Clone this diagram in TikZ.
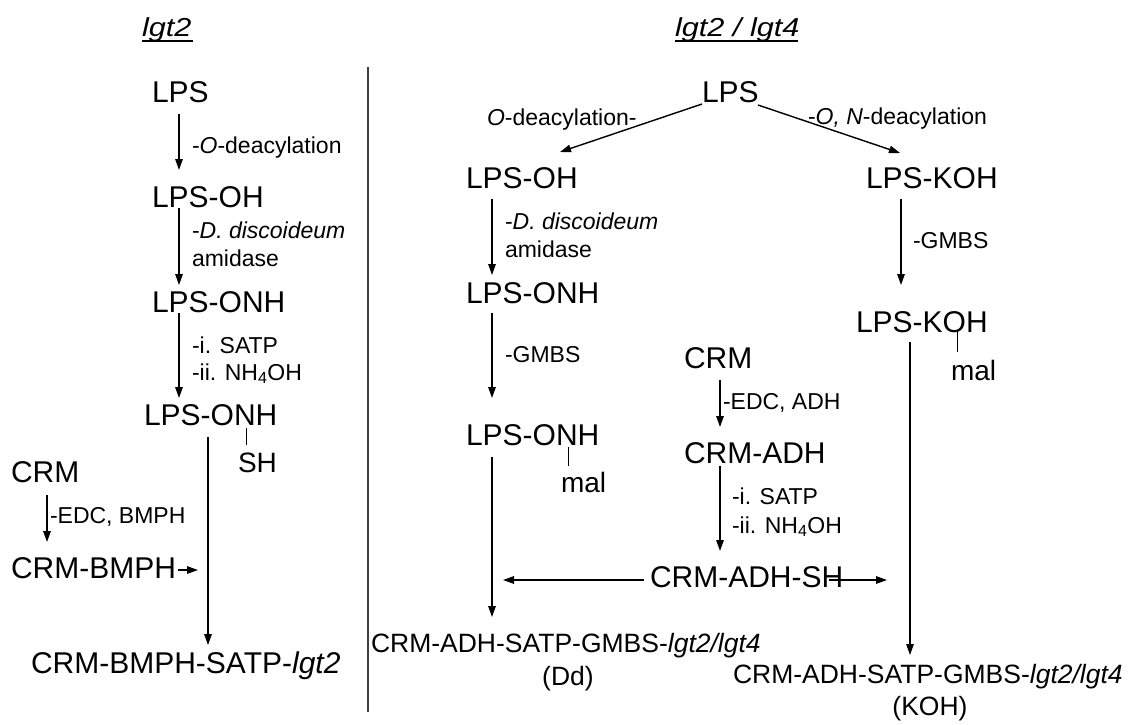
\documentclass[tikz,border=0pt]{standalone}
\usepackage{fontspec}
\setmainfont{Liberation Sans}
\usetikzlibrary{arrows.meta}
\newcommand\bigfnt{\fontsize{30}{36}\selectfont}
\newcommand\midfnt{\fontsize{28}{34}\selectfont}
\newcommand\finfnt{\fontsize{26.5}{32}\selectfont}
\newcommand\smfnt{\fontsize{23}{28}\selectfont}
\newcommand\hdfnt{\fontsize{26}{31}\selectfont}
\begin{document}
\begin{tikzpicture}[x=1pt,y=-1pt,
  every node/.style={inner sep=0pt,outer sep=0pt},
  lbl/.style={anchor=base west,font=\bigfnt},
  mlbl/.style={anchor=base west,font=\midfnt},
  sml/.style={anchor=base west,font=\smfnt},
  fin/.style={font=\finfnt},
  hdr/.style={anchor=base west,font=\hdfnt},
  arr/.style={line width=1.4pt,-{Triangle[length=11pt,width=7.5pt]}},
  tickline/.style={line width=0.9pt},
  uline/.style={line width=2.8pt},
  divider/.style={line width=1.2pt,black!75}]
\useasboundingbox (0,0) rectangle (1131,724);

% headers
\node[hdr] (h1) at (142,36) {\scalebox{1.18}[1]{\itshape lgt2}};
\node[hdr] (h2) at (675,36) {\scalebox{1.18}[1]{\itshape lgt2 / lgt4}};
\coordinate (u1a) at (142,41); \coordinate (u1b) at (193,41);
\coordinate (u2a) at (675,41); \coordinate (u2b) at (798,41);
\draw[uline] (u1a) -- (u1b);
\draw[uline] (u2a) -- (u2b);

% divider
\coordinate (dv1) at (368,67); \coordinate (dv2) at (368,712);
\draw[divider] (dv1) -- (dv2);

% ---------------- left column
\node[lbl] (L1) at (152,102) {LPS};
\node[lbl] (L2) at (152,207) {LPS-OH};
\node[lbl] (L3) at (152,312) {LPS-ONH};
\node[lbl] (L4) at (144,425) {LPS-ONH};
\node[mlbl] (LSH) at (238,472) {SH};
\node[lbl] (LC1) at (11,482) {CRM};
\node[lbl] (LC2) at (11,578) {CRM-BMPH};
\node[lbl] (LF) at (31,673) {CRM-BMPH-SATP-\textit{lgt2}};

\node[sml] (la1) at (192,153) {-\textit{O}-deacylation};
\node[sml] (la2) at (192,238) {-\textit{D. discoideum}};
\node[sml] (la3) at (192,266) {amidase};
\node[sml] (la4) at (192,353) {-i. SATP};
\node[sml] (la5) at (192,380) {-ii. NH\textsubscript{4}OH};
\node[sml] (la6) at (50,523) {-EDC, BMPH};

\coordinate (a1s) at (179,114); \coordinate (a1e) at (179,170);
\coordinate (a2s) at (179,208); \coordinate (a2e) at (179,285);
\coordinate (a3s) at (179,313); \coordinate (a3e) at (179,398);
\coordinate (a4s) at (208,437); \coordinate (a4e) at (208,645);
\coordinate (a5s) at (47,495);  \coordinate (a5e) at (47,542);
\coordinate (a6s) at (178,570); \coordinate (a6e) at (198,570);
\coordinate (t1s) at (246,428); \coordinate (t1e) at (246,445);
\draw[arr] (a1s) -- (a1e);
\draw[arr] (a2s) -- (a2e);
\draw[arr] (a3s) -- (a3e);
\draw[arr] (a4s) -- (a4e);
\draw[arr] (a5s) -- (a5e);
\draw[arr] (a6s) -- (a6e);
\draw[tickline] (t1s) -- (t1e);

% ---------------- right part
\node[lbl] (R0) at (702,102) {LPS};
\node[sml] (ra0) at (487,125) {\textit{O}-deacylation-};
\node[sml] (rb0) at (808,124) {-\textit{O, N}-deacylation};

% middle column
\node[lbl] (M1) at (466,188) {LPS-OH};
\node[sml] (ma1) at (505,229) {-\textit{D. discoideum}};
\node[sml] (ma2) at (505,257) {amidase};
\node[lbl] (M2) at (466,303) {LPS-ONH};
\node[sml] (ma3) at (505,362) {-GMBS};
\node[lbl] (M3) at (466,445) {LPS-ONH};
\node[mlbl] (Mmal) at (561,492) {mal};
\node[fin,anchor=base west] (MF) at (371,652) {CRM-ADH-SATP-GMBS-\textit{lgt2/lgt4}};
\node[fin,anchor=base] (MFb) at (568,685) {(Dd)};

% CRM chain
\node[lbl] (C1) at (684,368) {CRM};
\node[sml] (ca1) at (723,409) {-EDC, ADH};
\node[lbl] (C2) at (684,463) {CRM-ADH};
\node[sml] (ca2) at (732,504) {-i. SATP};
\node[sml] (ca3) at (732,533) {-ii. NH\textsubscript{4}OH};
\node[lbl] (C3) at (650,587) {CRM-ADH-SH};

% right column
\node[lbl] (K1) at (866,188) {LPS-KOH};
\node[sml] (ka1) at (913,248) {-GMBS};
\node[lbl] (K2) at (856,332) {LPS-KOH};
\node[mlbl] (Kmal) at (951,380) {mal};
\node[fin,anchor=base west] (KF) at (733,683) {CRM-ADH-SATP-GMBS-\textit{lgt2/lgt4}};
\node[fin,anchor=base] (KFb) at (930,715) {(KOH)};

\coordinate (d1s) at (702,104); \coordinate (d1e) at (560,152);
\coordinate (d2s) at (758,105); \coordinate (d2e) at (900,153);
\coordinate (m1s) at (492,199); \coordinate (m1e) at (492,275);
\coordinate (m2s) at (492,313); \coordinate (m2e) at (492,398);
\coordinate (m3s) at (492,457); \coordinate (m3e) at (492,617);
\coordinate (c1s) at (720,380); \coordinate (c1e) at (720,427);
\coordinate (c2s) at (720,466); \coordinate (c2e) at (720,551);
\coordinate (c3s) at (644,580); \coordinate (c3e) at (503,580);
\coordinate (c4s) at (829,580); \coordinate (c4e) at (887,580);
\coordinate (k1s) at (901,199); \coordinate (k1e) at (901,285);
\coordinate (k2s) at (910,342); \coordinate (k2e) at (910,655);
\coordinate (t2s) at (568,447); \coordinate (t2e) at (568,466);
\coordinate (t3s) at (957,330); \coordinate (t3e) at (957,352);
\draw[arr] (d1s) -- (d1e);
\draw[arr] (d2s) -- (d2e);
\draw[arr] (m1s) -- (m1e);
\draw[arr] (m2s) -- (m2e);
\draw[arr] (m3s) -- (m3e);
\draw[arr] (c1s) -- (c1e);
\draw[arr] (c2s) -- (c2e);
\draw[arr] (c3s) -- (c3e);
\draw[arr] (c4s) -- (c4e);
\draw[arr] (k1s) -- (k1e);
\draw[arr] (k2s) -- (k2e);
\draw[tickline] (t2s) -- (t2e);
\draw[tickline] (t3s) -- (t3e);
\end{tikzpicture}
\end{document}
